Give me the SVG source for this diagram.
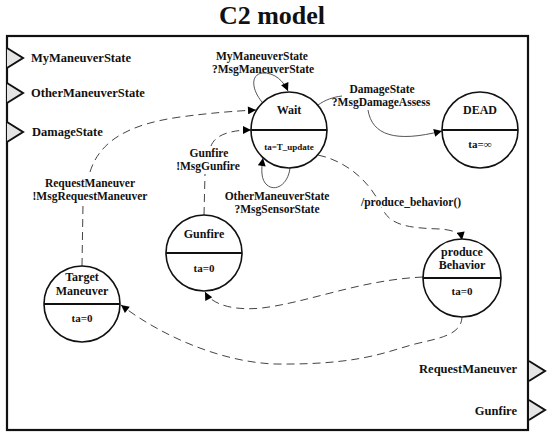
<svg xmlns="http://www.w3.org/2000/svg" width="550" height="436" viewBox="0 0 550 436">
<style>
text{font-family:"Liberation Serif","Times New Roman",serif;font-weight:bold;fill:#111;}
.title{font-size:26px;text-anchor:middle;}
.port{font-size:12.5px;}
.portR{font-size:12.5px;text-anchor:end;}
.lbl{font-size:11.5px;text-anchor:middle;}
.halo{paint-order:stroke;stroke:#fff;stroke-width:4px;stroke-linejoin:round;}
.nm{font-size:12px;text-anchor:middle;}
.ta{font-size:11px;text-anchor:middle;}
.tas{font-size:9px;text-anchor:middle;}
.st{fill:#fff;stroke:#111;stroke-width:1.6;}
.div{stroke:#111;stroke-width:1.8;}
.tri{fill:#e4e4e4;stroke:#111;stroke-width:2;stroke-linejoin:miter;}
.solid{fill:none;stroke:#555;stroke-width:1;}
.dash{fill:none;stroke:#444;stroke-width:1;stroke-dasharray:8 5;}
</style>
<defs>
<marker id="ah" viewBox="0 0 10 10" refX="10" refY="5" markerWidth="9" markerHeight="8" markerUnits="userSpaceOnUse" orient="auto">
<path d="M0,0 L10,5 L0,10 z" fill="#000"/>
</marker>
</defs>
<rect width="550" height="436" fill="#fff"/>
<text class="title" x="272" y="24">C2 model</text>
<rect x="7" y="36" width="521" height="394" fill="none" stroke="#111" stroke-width="2.2"/>

<g id="ports">
<path class="tri" d="M7,48 L23,58 L7,68"/>
<text class="port" x="31" y="62">MyManeuverState</text>
<path class="tri" d="M7,83 L23,93 L7,103"/>
<text class="port" x="31" y="97">OtherManeuverState</text>
<path class="tri" d="M7,122 L23,132 L7,142"/>
<text class="port" x="32" y="136">DamageState</text>
<path class="tri" d="M529,361 L545,371 L529,381"/>
<text class="portR" x="517" y="373">RequestManeuver</text>
<path class="tri" d="M529,400 L545,410 L529,420"/>
<text class="portR" x="517" y="415">Gunfire</text>
</g>

<g id="connectors">
<path class="solid" d="M262,102 C252,90 250,75 262,73 C275,72 284,82 288,91" marker-end="url(#ah)"/>
<path class="solid" d="M290,168 C288,185 275,192 267,185 C261,180 261,170 263,158" marker-end="url(#ah)"/>
<path class="solid" d="M318,105 C325,100 333,97 342,96 M368,110 C372,135 395,143 442,131" marker-end="url(#ah)"/>
<path class="dash" d="M318,155 C350,162 372,185 382,208 C390,226 410,228 440,229 C455,230 461,234 462,240" marker-end="url(#ah)"/>
<path class="dash" d="M204,215 L205,174 M211,146 C215,135 230,130 251,130" marker-end="url(#ah)"/>
<path class="dash" d="M82,266 L83,204 M90,172 C100,140 130,124 180,117 C210,113 235,111 256,110" marker-end="url(#ah)"/>
<path class="dash" d="M423,277 C360,280 310,302 262,308 C235,311 212,305 205,292" marker-end="url(#ah)"/>
<path class="dash" d="M462,316 C462,335 440,338 415,344 C385,352 360,365 275,364 C220,362 160,335 121,305" marker-end="url(#ah)"/>
<text class="lbl" x="262" y="60">MyManeuverState</text>
<text class="lbl" x="263" y="73">?MsgManeuverState</text>
<text class="lbl" x="277" y="200">OtherManeuverState</text>
<text class="lbl" x="277" y="213">?MsgSensorState</text>
<text class="lbl" x="382" y="93">DamageState</text>
<text class="lbl" x="381" y="106">?MsgDamageAssess</text>
<text class="lbl halo" x="411" y="206">/produce_behavior()</text>
<text class="lbl" x="209" y="157">Gunfire</text>
<text class="lbl" x="208" y="170">!MsgGunfire</text>
<text class="lbl" x="90" y="187">RequestManeuver</text>
<text class="lbl" x="90" y="200">!MsgRequestManeuver</text>
</g>

<g id="wait">
<circle class="st" cx="289" cy="130" r="38"/>
<line class="div" x1="251" y1="130" x2="327" y2="130"/>
<text class="nm" x="289" y="114">Wait</text>
<text class="tas" x="289" y="150">ta=T_update</text>
</g>
<g id="dead">
<circle class="st" cx="480" cy="130" r="38"/>
<line class="div" x1="442" y1="130" x2="518" y2="130"/>
<text class="nm" x="480" y="114">DEAD</text>
<text class="ta" x="480" y="148">ta=∞</text>
</g>
<g id="gunfire">
<circle class="st" cx="204" cy="253" r="38"/>
<line class="div" x1="166" y1="253" x2="242" y2="253"/>
<text class="nm" x="204" y="238">Gunfire</text>
<text class="ta" x="204" y="272">ta=0</text>
</g>
<g id="targetManeuver">
<circle class="st" cx="82" cy="304" r="38"/>
<line class="div" x1="44" y1="304" x2="120" y2="304"/>
<text class="nm" x="82" y="281">Target</text>
<text class="nm" x="82" y="295">Maneuver</text>
<text class="ta" x="82" y="322">ta=0</text>
</g>
<g id="produceBehavior">
<circle class="st" cx="462" cy="278" r="39"/>
<line class="div" x1="423" y1="278" x2="501" y2="278"/>
<text class="nm" x="462" y="256">produce</text>
<text class="nm" x="462" y="269">Behavior</text>
<text class="ta" x="462" y="295">ta=0</text>
</g>
</svg>
